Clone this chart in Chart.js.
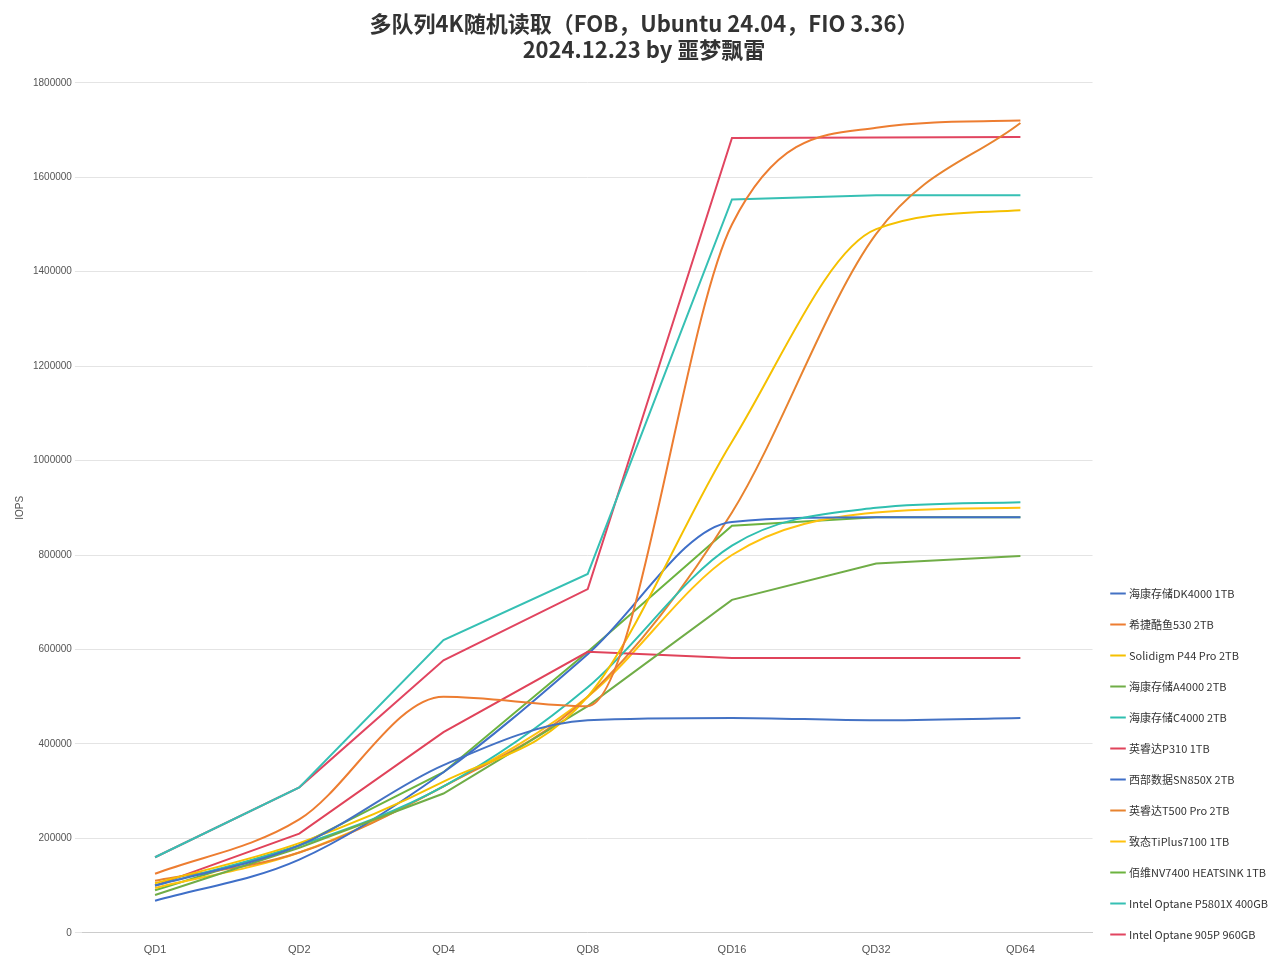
<!DOCTYPE html>
<html lang="zh">
<head>
<meta charset="UTF-8">
<script src="https://cdn.jsdelivr.net/npm/chart.js"></script>
<style>
  body { margin: 0; background: #fff; }
  #wrap { width: 1280px; height: 966px; }
</style>
</head>
<body>
<div id="wrap"><canvas id="qd"></canvas></div>
<script>
const labels = ['QD1', 'QD2', 'QD4', 'QD8', 'QD16', 'QD32', 'QD64'];

const dk4000  = [100000, 185000, 355000, 450000, 455000, 450000, 455000];
const ks530   = [125000, 240000, 500000, 480000, 1500000, 1705000, 1720000];
const p44     = [105000, 190000, 320000, 500000, 1040000, 1490000, 1530000];
const a4000   = [80000, 180000, 295000, 480000, 705000, 782000, 798000];
const c4000   = [100000, 185000, 310000, 520000, 820000, 900000, 912000];
const p310    = [100000, 210000, 425000, 595000, 582000, 582000, 582000];
const sn850x  = [68000, 155000, 340000, 590000, 870000, 880000, 880000];
const t500    = [110000, 170000, 310000, 500000, 890000, 1480000, 1715000];
const tiplus  = [95000, 170000, 310000, 500000, 800000, 890000, 900000];
const nv7400  = [90000, 185000, 340000, 595000, 862000, 880000, 880000];
const p5801x  = [160000, 308000, 620000, 760000, 1553000, 1562000, 1562000];
const o905p   = [160000, 308000, 577000, 728000, 1683000, 1684000, 1685000];

const series = (label, data, color, tension) => ({
  label: label,
  data: data,
  borderColor: color,
  backgroundColor: color,
  borderWidth: 2,
  pointRadius: 0,
  tension: tension,
  cubicInterpolationMode: tension ? 'monotone' : 'default'
});

new Chart(document.getElementById('qd').getContext('2d'), {
  type: 'line',
  data: {
    labels: labels,
    datasets: [
      series('海康存储DK4000 1TB', dk4000, '#4472c4', 0.4),
      series('希捷酷鱼530 2TB', ks530, '#ed7d31', 0.4),
      series('Solidigm P44 Pro 2TB', p44, '#f5c000', 0.4),
      series('海康存储A4000 2TB', a4000, '#70ad47', 0),
      series('海康存储C4000 2TB', c4000, '#2fbfb0', 0.4),
      series('英睿达P310 1TB', p310, '#e0435a', 0),
      series('西部数据SN850X 2TB', sn850x, '#3f6fc8', 0.4),
      series('英睿达T500 Pro 2TB', t500, '#e8832f', 0.4),
      series('致态TiPlus7100 1TB', tiplus, '#ffc20e', 0.4),
      series('佰维NV7400 HEATSINK 1TB', nv7400, '#6cb33f', 0),
      series('Intel Optane P5801X 400GB', p5801x, '#36c0b4', 0),
      series('Intel Optane 905P 960GB', o905p, '#e14560', 0)
    ]
  },
  options: {
    responsive: true,
    maintainAspectRatio: false,
    animation: false,
    layout: { padding: { left: 10, right: 2, top: 4, bottom: 6 } },
    plugins: {
      title: {
        display: true,
        text: ['多队列4K随机读取（FOB，Ubuntu 24.04，FIO 3.36）', '2024.12.23 by 噩梦飘雷'],
        color: '#333',
        font: { size: 22, weight: 'bold', family: 'Noto Sans CJK SC' },
        padding: { top: 6, bottom: 20 }
      },
      legend: {
        position: 'right',
        align: 'end',
        labels: {
          usePointStyle: true,
          pointStyle: 'line',
          boxWidth: 24,
          padding: 20,
          color: '#333',
          font: { size: 11, family: 'Noto Sans CJK SC' }
        }
      }
    },
    scales: {
      x: {
        offset: true,
        grid: { display: false },
        border: { color: '#ccc' },
        ticks: { color: '#555', font: { size: 11 } }
      },
      y: {
        min: 0,
        max: 1800000,
        ticks: { stepSize: 200000, color: '#555', font: { size: 10 }, callback: v => String(v) },
        grid: { color: '#e4e4e4' },
        border: { display: false },
        title: { display: true, text: 'IOPS', color: '#555', font: { size: 10 } }
      }
    }
  }
});
</script>
</body>
</html>
